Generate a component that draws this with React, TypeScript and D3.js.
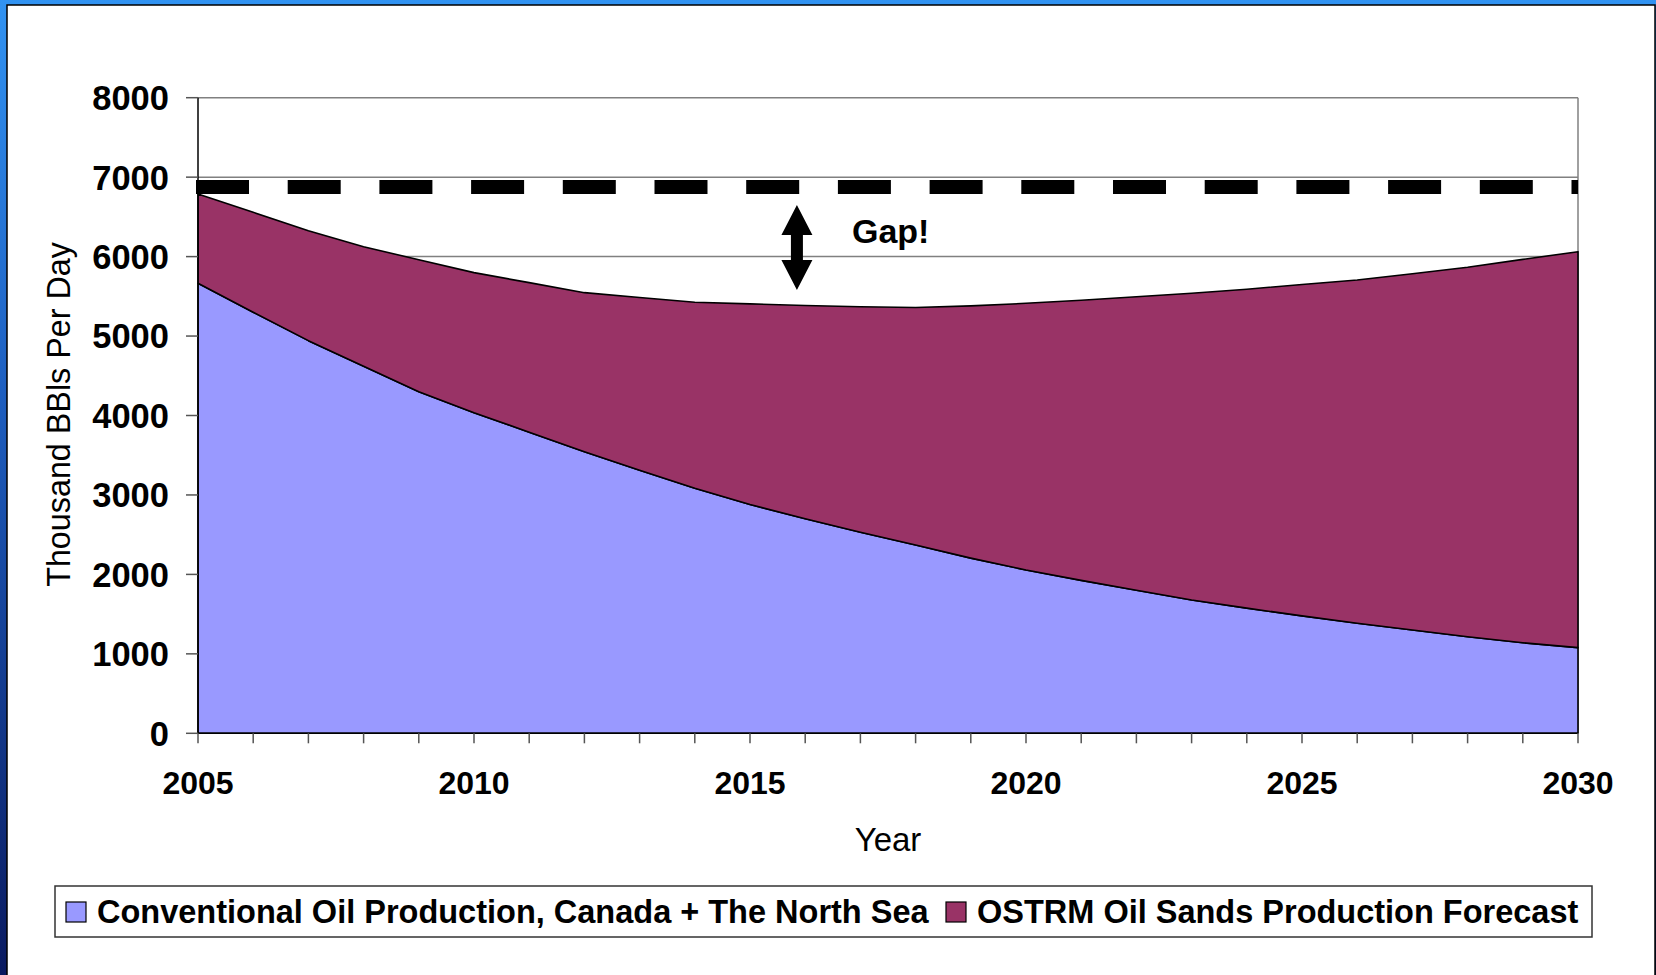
import React from "react";
import * as d3 from "d3";

const years = [2005, 2006, 2007, 2008, 2009, 2010, 2011, 2012, 2013, 2014, 2015, 2016, 2017, 2018, 2019, 2020, 2021, 2022, 2023, 2024, 2025, 2026, 2027, 2028, 2029, 2030];
const conventional = [5664, 5300, 4942, 4620, 4300, 4035, 3790, 3544, 3310, 3084, 2880, 2700, 2530, 2370, 2205, 2055, 1925, 1800, 1678, 1575, 1478, 1385, 1300, 1216, 1140, 1078];
const oilSands = [1124, 1257, 1384, 1505, 1660, 1763, 1882, 2002, 2175, 2341, 2525, 2685, 2838, 2990, 3175, 3357, 3525, 3695, 3860, 4015, 4170, 4320, 4485, 4649, 4825, 4984];
const yTicks = [0, 1000, 2000, 3000, 4000, 5000, 6000, 7000, 8000];
const xTickLabels = [2005, 2010, 2015, 2020, 2025, 2030];
const seriesKeys = ["conventional", "oilSands"];
const seriesNames = ["Conventional Oil Production, Canada + The North Sea", "OSTRM Oil Sands Production Forecast"];
const seriesColors = ["#9999FF", "#993366"];
const demandLevel = 6875;
const gapTop = 6650;
const gapBottom = 5580;
const gapYear = 2015.85;
const gapLabel = "Gap!";
const xTitle = "Year";
const yTitle = "Thousand BBls Per Day";

const FONT = "'Liberation Sans', Arial, Helvetica, sans-serif";

export default function App() {
  const W = 1656, H = 975;
  const left = 198, right = 1578, top = 97.7, bottom = 733.3;
  const x = d3.scaleLinear().domain([2005, 2030]).range([left, right]);
  const y = d3.scaleLinear().domain([0, 8000]).range([bottom, top]);

  const rows = years.map((yr, i) => ({ year: yr, conventional: conventional[i], oilSands: oilSands[i] }));
  const stacked = d3.stack<any>().keys(seriesKeys)(rows);
  const area = d3
    .area<any>()
    .x((d) => x(d.data.year))
    .y0((d) => y(d[0]))
    .y1((d) => y(d[1]))
    .curve(d3.curveLinear);

  const ax = x(gapYear);
  const aTop = y(gapTop);
  const aBot = y(gapBottom);
  const headH = 30, headW = 15.5, shaftW = 6;
  const arrowPath = [
    `M${ax},${aTop}`,
    `L${ax + headW},${aTop + headH}`,
    `L${ax + shaftW},${aTop + headH}`,
    `L${ax + shaftW},${aBot - headH}`,
    `L${ax + headW},${aBot - headH}`,
    `L${ax},${aBot}`,
    `L${ax - headW},${aBot - headH}`,
    `L${ax - shaftW},${aBot - headH}`,
    `L${ax - shaftW},${aTop + headH}`,
    `L${ax - headW},${aTop + headH}`,
    "Z",
  ].join(" ");

  const legendX = [66, 946];

  return (
    <svg
      width={W}
      height={H}
      style={{ position: "absolute", left: 0, top: 0, display: "block" }}
      fontFamily={FONT}
    >
      <defs>
        <linearGradient id="bg" x1="0" y1="0" x2="0" y2="1">
          <stop offset="0%" stopColor="#3193F2" />
          <stop offset="40%" stopColor="#1E5FC0" />
          <stop offset="100%" stopColor="#0A1A60" />
        </linearGradient>
      </defs>
      <rect x={0} y={0} width={W} height={H} fill="url(#bg)" />
      <rect x={7} y={5} width={W - 8} height={H} fill="#FFFFFF" stroke="#000" strokeWidth={1.5} />

      {/* gridlines */}
      {yTicks.map((t) => (
        <line key={"g" + t} x1={left} x2={right} y1={y(t)} y2={y(t)} stroke="#808080" strokeWidth={1.5} />
      ))}
      <line x1={right} x2={right} y1={top} y2={bottom} stroke="#808080" strokeWidth={1.5} />

      {/* areas */}
      {stacked.map((s, i) => (
        <path key={s.key} d={area(s) as string} fill={seriesColors[i]} stroke="#000" strokeWidth={1.6} strokeLinejoin="round" />
      ))}

      {/* axes */}
      <line x1={left} x2={left} y1={top} y2={bottom} stroke="#000" strokeWidth={1.5} />
      <line x1={left} x2={right} y1={bottom} y2={bottom} stroke="#000" strokeWidth={1.5} />
      {yTicks.map((t) => (
        <g key={"yt" + t}>
          <line x1={left - 12} x2={left} y1={y(t)} y2={y(t)} stroke="#555" strokeWidth={1.5} />
          <text x={169} y={y(t)} dy="0.36em" textAnchor="end" fontSize={34.5} fontWeight="bold" fill="#000">
            {t}
          </text>
        </g>
      ))}
      {years.map((yr) => (
        <line key={"xt" + yr} x1={x(yr)} x2={x(yr)} y1={bottom} y2={bottom + 10} stroke="#555" strokeWidth={1.5} />
      ))}
      {xTickLabels.map((yr) => (
        <text key={"xl" + yr} x={x(yr)} y={794} textAnchor="middle" fontSize={32} fontWeight="bold" fill="#000">
          {yr}
        </text>
      ))}

      {/* axis titles */}
      <text x={(left + right) / 2} y={851} textAnchor="middle" fontSize={33} fill="#000">
        {xTitle}
      </text>
      <text transform={`translate(70,${(top + bottom) / 2 - 1}) rotate(-90)`} textAnchor="middle" fontSize={32.3} fill="#000">
        {yTitle}
      </text>

      {/* demand dashed line */}
      <line
        x1={196}
        x2={right}
        y1={y(demandLevel)}
        y2={y(demandLevel)}
        stroke="#000"
        strokeWidth={14}
        strokeDasharray="53 38.7"
      />

      {/* gap arrow */}
      <path d={arrowPath} fill="#000" />
      <text x={852} y={243} fontSize={34} fontWeight="bold" fill="#000">
        {gapLabel}
      </text>

      {/* legend */}
      <rect x={55} y={886} width={1537} height={51} fill="#fff" stroke="#333" strokeWidth={1.5} />
      {seriesNames.map((name, i) => (
        <g key={name}>
          <rect x={legendX[i]} y={902} width={20} height={20} fill={seriesColors[i]} stroke="#000" strokeWidth={1.2} />
          <text x={legendX[i] + 31} y={923} fontSize={32.5} fontWeight="bold" fill="#000">
            {name}
          </text>
        </g>
      ))}
    </svg>
  );
}
